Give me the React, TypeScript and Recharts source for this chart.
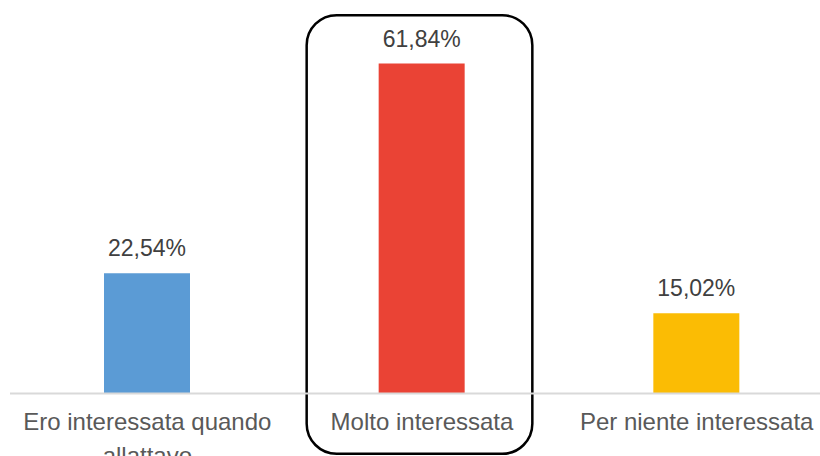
import { Bar, BarChart, Cell, LabelList, ReferenceArea, XAxis, YAxis } from "recharts";

const categories = ["Ero interessata quando allattavo", "Molto interessata", "Per niente interessata"];
const percentages = [22.54, 61.84, 15.02];
const barColors = ["#5B9BD5", "#EA4335", "#FBBC04"];
const highlighted = "Molto interessata";

const data = categories.map((name, i) => ({ name, value: percentages[i] }));

const FONT = "'Liberation Sans', Arial, sans-serif";

// a capo semplice in base al numero di caratteri
function wrapLabel(label: string, maxChars = 22) {
  const lines: string[] = [];
  let current = "";
  label.split(" ").forEach((word) => {
    const next = current ? `${current} ${word}` : word;
    if (next.length > maxChars && current) {
      lines.push(current);
      current = word;
    } else {
      current = next;
    }
  });
  if (current) lines.push(current);
  return lines;
}

function CategoryTick(props: any) {
  const { x, y, payload } = props;
  const lines = wrapLabel(String(payload.value));
  return (
    <text x={x} y={y} textAnchor="middle" fontSize={24} fontFamily={FONT} fill="#595959">
      {lines.map((line, i) => (
        <tspan key={i} x={x} y={y + 28.5 + i * 34}>
          {line}
        </tspan>
      ))}
    </text>
  );
}

// riquadro arrotondato attorno alla categoria evidenziata
function HighlightBox(props: any) {
  const { x, y, width, height } = props;
  return (
    <rect
      x={x + 22}
      y={y}
      width={width - 49}
      height={height}
      rx={30}
      ry={30}
      fill="none"
      stroke="#000"
      strokeWidth={2.5}
    />
  );
}

export default function App() {
  return (
    <div style={{ position: "absolute", left: 0, top: 0, width: 820, height: 456, overflow: "hidden", background: "#fff" }}>
      <BarChart
        width={834}
        height={456}
        data={data}
        margin={{ top: 20, right: 0, left: 10, bottom: 0 }}
        barCategoryGap={0}
      >
        <YAxis hide domain={[0, 70]} />
        <XAxis
          dataKey="name"
          height={62.5}
          tickLine={false}
          axisLine={{ stroke: "#D9D9D9", strokeWidth: 2 }}
          tick={<CategoryTick />}
          interval={0}
        />
        <ReferenceArea
          x1={highlighted}
          x2={highlighted}
          y1={-11.3}
          y2={70.9}
          ifOverflow="visible"
          shape={<HighlightBox />}
        />
        <Bar dataKey="value" barSize={86} isAnimationActive={false}>
          {data.map((entry, i) => (
            <Cell key={`cell-${i}`} fill={barColors[i]} />
          ))}
          <LabelList
            dataKey="value"
            position="top"
            offset={17}
            fontSize={23}
            fontFamily={FONT}
            fill="#404040"
            formatter={(v: any) => `${Number(v).toFixed(2).replace(".", ",")}%`}
          />
        </Bar>
      </BarChart>
    </div>
  );
}
